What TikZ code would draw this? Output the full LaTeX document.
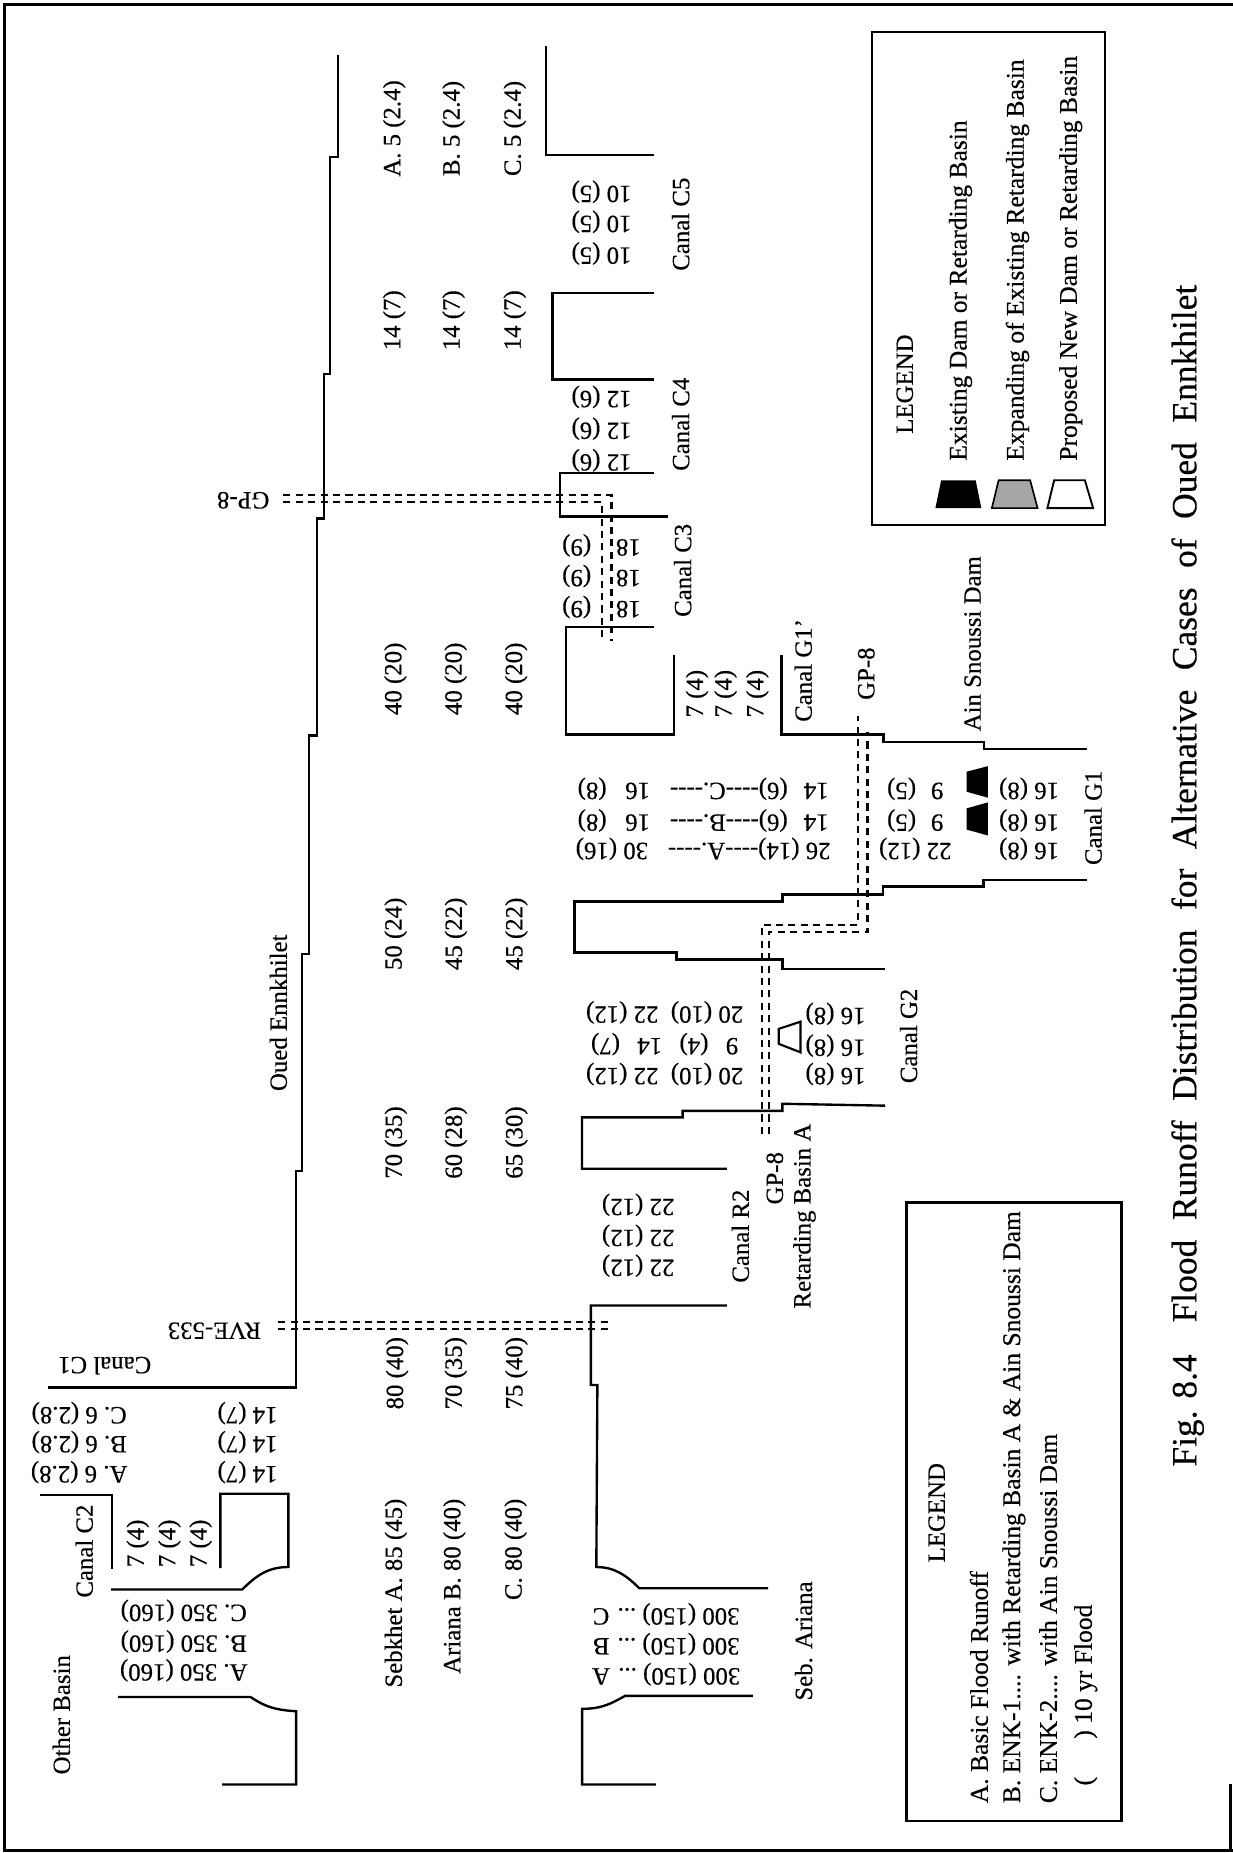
\documentclass[tikz,border=0pt]{standalone}
\usepackage{fontspec}
\setmainfont[FakeBold=0.35]{Liberation Serif}
\usetikzlibrary{shapes.geometric}
\tikzset{
  up/.style={rotate=90,inner sep=0pt,font=\fontsize{21}{21}\selectfont},
  inv/.style={rotate=180,inner sep=0pt,font=\fontsize{21}{21}\selectfont},
  legtxt/.style={rotate=90,inner sep=0pt,anchor=west,font=\fontsize{21.6}{21.6}\selectfont},
  bank/.style={line width=2pt,line join=miter},
  frameline/.style={line width=2.2pt},
  dashline/.style={line width=2pt,dash pattern=on 6pt off 4.5pt},
  box/.style={line width=2pt},
}
\begin{document}
\begin{tikzpicture}[x=1pt,y=-1pt]
\useasboundingbox (0,0) rectangle (1043,1568);
\fill[white] (0,0) rectangle (1043,1568);
% outer frame
\draw[frameline] (1043,4) -- (4,4) -- (4,1566) -- (1043,1566);
\draw[frameline] (1041,1510) -- (1041,1566);
% Oued Ennkhilet left bank and tributaries
\draw[bank] (188,1510) -- (250.6,1510) -- (250.6,1448) .. controls (228,1447) and (220,1441) .. (212,1436) -- (100,1436);
\draw[bank] (94,1345) -- (205,1345) .. controls (218,1332) and (228,1326) .. (244,1326) -- (244,1264) -- (186.5,1264) -- (186.5,1327);
\draw[bank] (34,1265) -- (95,1265) -- (95,1328);
\draw[bank] (41,1174) -- (250.6,1174) -- (250.6,990.7) -- (255.7,990.7) -- (255.7,807) -- (261.6,807) -- (261.6,622.4) -- (268,622.4) -- (268,438.6) -- (274,438.6) -- (274,316.7) -- (279.5,316.7) -- (279.5,132.7) -- (286,132.7) -- (286,46.6);
% right bank
\draw[bank] (555,1510) -- (492.6,1510) -- (492.6,1446) .. controls (510,1446) and (518,1441) .. (529,1435) -- (637,1435);
\draw[bank] (650,1344) -- (541,1344) .. controls (530,1333) and (520,1326) .. (504.6,1326) -- (505.5,1172) -- (500,1172) -- (500,1104.7) -- (615,1104.7);
\draw[bank] (615,989) -- (492.5,989) -- (492.5,945.5) -- (577.6,945.5) -- (577.6,940) -- (662,940) -- (662,934) -- (749,935.6);
\draw[bank] (748.8,819.7) -- (662,819.7) -- (662,812) -- (572.4,812) -- (572.4,806) -- (486,806) -- (486,762.7) -- (662,762.7) -- (662,757) -- (747,757) -- (747,750) -- (832.3,750) -- (832.3,744.5) -- (919.6,744.5);
\draw[bank] (919.4,633.6) -- (832.9,633.6) -- (832.9,628) -- (747.7,628) -- (747.7,621.5) -- (661.3,621.5) -- (661.3,554.6);
\draw[bank] (570.4,554.6) -- (570.4,621.5) -- (479,621.5) -- (479,530.6) -- (553.4,530.6);
\draw[bank] (565.5,437) -- (474,437) -- (474,400) -- (553.4,400);
\draw[bank] (553.8,321) -- (467.4,321) -- (467.4,247.8) -- (553.8,247.8);
\draw[bank] (553.8,131) -- (461.8,131) -- (461.8,38.7);
% RVE-533 dashed
\draw[dashline] (235.4,1118.6) -- (518.4,1118.6);
\draw[dashline] (235.4,1124.5) -- (518.4,1124.5);
% GP-8 upper dashed
\draw[dashline] (239.8,419) -- (517.4,419) -- (517.4,542);
\draw[dashline] (239.8,425) -- (509.5,425) -- (509.5,542);
% GP-8 lower dashed
\draw[dashline] (644.6,959.5) -- (644.6,782.5) -- (725.9,782.5) -- (725.9,606);
\draw[dashline] (650.6,959.5) -- (650.6,788.5) -- (734,788.5) -- (734,619);
% dam icons
\fill[black] (818,653) -- (836,648.3) -- (836,675) -- (818,670) -- cycle;
\fill[black] (818,684) -- (836,679) -- (836,707) -- (818,702) -- cycle;
\draw[line width=1.8pt] (659,870.6) -- (677.4,864.5) -- (677.4,890.5) -- (659,883.3) -- cycle;
% legend boxes
\draw[box] (767,1017.4) rectangle (949,1541);
\draw[box] (738,27) rectangle (935,444);
\fill[black] (791.5,430) -- (796.4,406.4) -- (825.6,406.4) -- (830.4,430) -- cycle;
\draw[line width=1.4pt,fill=black!35] (839.3,430) -- (845,406.4) -- (871.7,406.4) -- (878,430) -- cycle;
\draw[line width=1.6pt] (886.3,430) -- (892,406.4) -- (918,406.4) -- (925,430) -- cycle;
% legend 1 text
\node[up,anchor=center] at (765.6,325) {LEGEND};
\node[legtxt] at (812.8,390) {Existing Dam or Retarding Basin};
\node[legtxt] at (861,390) {Expanding of Existing Retarding Basin};
\node[legtxt] at (906,390) {Proposed New Dam or Retarding Basin};
% legend 2 text
\node[up,anchor=center] at (792.6,1280) {LEGEND};
\node[legtxt] at (828.4,1526) {A. Basic Flood Runoff};
\node[legtxt] at (858,1526) {B. ENK-1.... with Retarding Basin A \& Ain Snoussi Dam};
\node[legtxt] at (887,1526) {C. ENK-2.... with Ain Snoussi Dam};
\node[legtxt] at (918.7,1511) {(\hspace{1.5em}) 10 yr Flood};
% title
\node[rotate=90,inner sep=0pt,font=\fontsize{30}{30}\selectfont] at (1005,741) {Fig. 8.4\hspace{0.9em}Flood\hspace{0.55em}Runoff\hspace{0.55em}Distribution\hspace{0.55em}for\hspace{0.55em}Alternative\hspace{0.55em}Cases\hspace{0.55em}of\hspace{0.55em}Oued\hspace{0.55em}Ennkhilet};
% left part labels
\node[up] at (52,1451) {Other Basin};
\node[up] at (71.3,1312.5) {Canal C2};
\node[inv] at (88.6,1155.5) {Canal C1};
\node[inv] at (181.4,1126) {RVE-533};
\node[inv] at (155.5,1413.4) {A. 350 (160)};
\node[inv] at (155.5,1389) {B. 350 (160)};
\node[inv] at (155.5,1363) {C. 350 (160)};
\node[inv] at (563.7,1416.7) {300 (150) ... A};
\node[inv] at (563.7,1391.3) {300 (150) ... B};
\node[inv] at (563.7,1366) {300 (150) ... C};
\node[inv] at (67,1245.7) {A. 6 (2.8)};
\node[inv] at (67,1220.3) {B. 6 (2.8)};
\node[inv] at (67,1195.8) {C. 6 (2.8)};
\node[inv] at (209.5,1245.7) {14 (7)};
\node[inv] at (209.5,1220.3) {14 (7)};
\node[inv] at (209.5,1195.8) {14 (7)};
\node[up] at (116.6,1306) {7 (4)};
\node[up] at (143.4,1306) {7 (4)};
\node[up] at (169.8,1306) {7 (4)};
% main channel columns
\node[up,anchor=east] at (335,1268) {Sebkhet A. 85 (45)};
\node[up,anchor=east] at (384.5,1268) {Ariana B. 80 (40)};
\node[up,anchor=east] at (436.3,1268) {C. 80 (40)};
\node[up] at (336,1162) {80 (40)};
\node[up] at (385.7,1162) {70 (35)};
\node[up] at (437,1162) {75 (40)};
\node[up] at (335,966.8) {70 (35)};
\node[up] at (385.8,966.8) {60 (28)};
\node[up] at (437,966.8) {65 (30)};
\node[up] at (334.8,790.2) {50 (24)};
\node[up] at (385.8,790.2) {45 (22)};
\node[up] at (437,790.2) {45 (22)};
\node[up] at (334.6,574.4) {40 (20)};
\node[up] at (385.6,574.4) {40 (20)};
\node[up] at (436.7,574.4) {40 (20)};
\node[up] at (333.6,271) {14 (7)};
\node[up] at (383.8,271) {14 (7)};
\node[up] at (435.6,271) {14 (7)};
\node[up] at (333.6,108.7) {A. 5 (2.4)};
\node[up] at (383.8,108.7) {B. 5 (2.4)};
\node[up] at (435.6,108.7) {C. 5 (2.4)};
\node[up] at (235.5,857) {Oued Ennkhilet};
% R2, basin A
\node[up] at (680,1388.6) {Seb. Ariana};
\node[up] at (680.8,1029) {Retarding Basin A};
\node[up] at (655.6,997) {GP-8};
\node[up] at (626.5,1046) {Canal R2};
\node[inv] at (540,1019.5) {22 (12)};
\node[inv] at (540,1045.7) {22 (12)};
\node[inv] at (540,1071) {22 (12)};
\node[inv] at (562.4,856.7) {20 (10)\hspace{0.5em}22 (12)};
\node[inv] at (562.4,883.5) {9\hspace{0.7em}(4)\hspace{0.7em}14\hspace{0.7em}(7)};
\node[inv] at (562.4,908.8) {20 (10)\hspace{0.5em}22 (12)};
\node[inv] at (707,857.9) {16 (8)};
\node[inv] at (707,884.8) {16 (8)};
\node[inv] at (707,908.8) {16 (8)};
\node[up] at (768.8,876.6) {Canal G2};
% G1
\node[up] at (589.8,587) {7 (4)};
\node[up] at (614,587) {7 (4)};
\node[up] at (640.9,587) {7 (4)};
\node[up] at (679.7,567.3) {Canal G1'};
\node[up] at (733,570) {GP-8};
\node[up] at (823,544.7) {Ain Snoussi Dam};
\node[inv] at (595,667.5) {14\hspace{0.65em}(6)-{}-{}-{}-C.-{}-{}-{}-\hspace{0.8em}16\hspace{0.75em}(8)};
\node[inv] at (595,694.3) {14\hspace{0.65em}(6)-{}-{}-{}-B.-{}-{}-{}-\hspace{0.8em}16\hspace{0.75em}(8)};
\node[inv] at (595,718.3) {26 (14)-{}-{}-{}-A.-{}-{}-{}-\hspace{0.8em}30 (16)};
\node[inv] at (774.5,667.5) {9\hspace{0.6em}(5)};
\node[inv] at (774.5,694.3) {9\hspace{0.6em}(5)};
\node[inv] at (774.5,718.3) {22 (12)};
\node[inv] at (870.8,667.5) {16 (8)};
\node[inv] at (870.8,694.3) {16 (8)};
\node[inv] at (870.8,718.3) {16 (8)};
\node[up] at (925,692) {Canal G1};
% C3, C4, C5
\node[inv] at (509,513.7) {18\hspace{1em}(9)};
\node[inv] at (509,487.4) {18\hspace{1em}(9)};
\node[inv] at (509,461.5) {18\hspace{1em}(9)};
\node[up] at (577.7,482.6) {Canal C3};
\node[inv] at (509,389.5) {12 (6)};
\node[inv] at (509,362.7) {12 (6)};
\node[inv] at (509,335.9) {12 (6)};
\node[up] at (576,359) {Canal C4};
\node[inv] at (509,214.5) {10 (5)};
\node[inv] at (509,187.7) {10 (5)};
\node[inv] at (509,162.3) {10 (5)};
\node[up] at (576,189.7) {Canal C5};
\node[inv] at (205.8,423.4) {GP-8};
\end{tikzpicture}
\end{document}
